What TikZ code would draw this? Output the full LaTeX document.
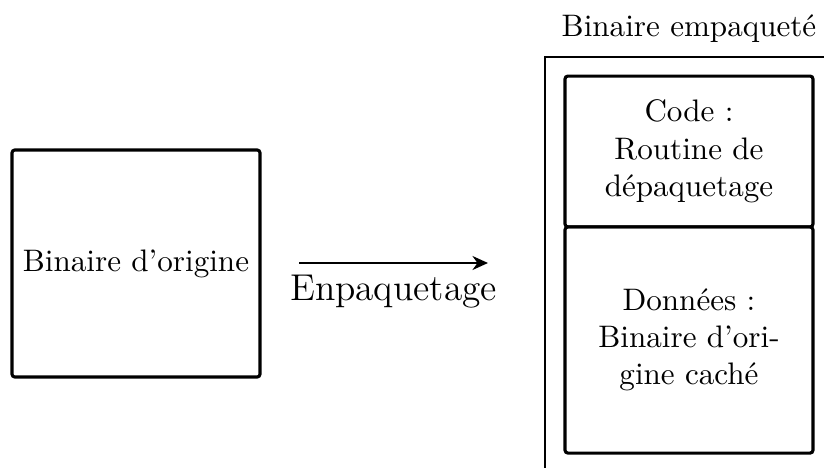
\documentclass[tikz,border=0pt]{standalone}
\usetikzlibrary{arrows.meta}
\begin{document}
\begin{tikzpicture}[x=0.3215pt,y=-0.3215pt,
  boxst/.style={draw,line width=1pt,rounded corners=0.9pt,align=center,inner sep=0pt,minimum width=79.7pt},
  outerst/.style={draw,line width=0.6pt},
  arrowst/.style={line width=0.6pt,-{Stealth[length=5pt,width=4.5pt]}}]
\clip (0,0) rectangle (824,468);
\useasboundingbox (0,0) rectangle (824,468);
% outer packed box
\draw[outerst] (545,57) rectangle (834,490);
\node[anchor=base] (title) at (689,37) {Binaire empaquet\'e};
% inner boxes
\node[boxst,minimum height=48.5pt] (code) at (689,151.5) {Code :\\Routine de\\d\'epaquetage};
\node[boxst,minimum height=72.7pt] (data) at (689,340) {Donn\'ees :\\Binaire d'ori-\\gine cach\'e};
% original binary
\node[boxst,minimum height=73pt] (orig) at (136,263.5) {Binaire d'origine};
% arrow
\coordinate (a1) at (299,263);
\coordinate (a2) at (488,263);
\draw[arrowst] (a1) -- (a2);
\node[anchor=base,font=\large] (lbl) at (393.5,301) {Enpaquetage};
\end{tikzpicture}
\end{document}
